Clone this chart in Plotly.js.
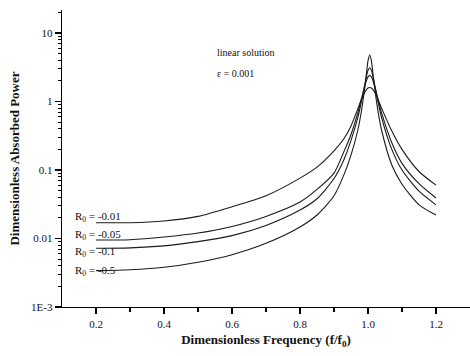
<!DOCTYPE html>
<html>
<head>
<meta charset="utf-8">
<script src="https://cdn.plot.ly/plotly-3.0.1.min.js"></script>
<style>html,body{margin:0;padding:0;background:#fff;}#chart{width:470px;height:356px;}</style>
</head>
<body>
<div id="chart"></div>
<script>
// Dimensionless frequency f/f0
const freq = [0.2, 0.3, 0.4, 0.5, 0.6, 0.7, 0.8, 0.85, 0.9, 0.93, 0.95, 0.97, 0.98, 0.99, 0.995, 1.0, 1.005, 1.01, 1.015, 1.02, 1.03, 1.04, 1.07, 1.1, 1.15, 1.2];

const seriesNames = ["R0 = -0.01", "R0 = -0.05", "R0 = -0.1", "R0 = -0.5"];

const powerR001 = [0.017, 0.017, 0.018, 0.021, 0.029, 0.042, 0.076, 0.11, 0.19, 0.29, 0.44, 0.78, 1.06, 1.35, 1.48, 1.57, 1.6, 1.57, 1.48, 1.35, 1.06, 0.8, 0.37, 0.2, 0.095, 0.06];
const powerR005 = [0.0095, 0.0096, 0.0105, 0.012, 0.015, 0.021, 0.034, 0.052, 0.09, 0.19, 0.33, 0.68, 1.05, 1.64, 1.99, 2.28, 2.4, 2.28, 1.99, 1.64, 1.05, 0.68, 0.25, 0.125, 0.063, 0.039];
const powerR01 = [0.0072, 0.0073, 0.0078, 0.009, 0.011, 0.0155, 0.026, 0.038, 0.075, 0.145, 0.27, 0.58, 0.96, 1.72, 2.28, 2.85, 3.1, 2.85, 2.28, 1.72, 0.96, 0.58, 0.2, 0.1, 0.049, 0.031];
const powerR05 = [0.0034, 0.0035, 0.0038, 0.0045, 0.0058, 0.0085, 0.0147, 0.022, 0.042, 0.087, 0.165, 0.38, 0.69, 1.52, 2.45, 3.9, 4.8, 3.9, 2.45, 1.52, 0.69, 0.38, 0.118, 0.062, 0.031, 0.022];

const allPower = [powerR001, powerR005, powerR01, powerR05];

const xTickVals = [0.2, 0.4, 0.6, 0.8, 1.0, 1.2];
const xTickText = ["0.2", "0.4", "0.6", "0.8", "1.0", "1.2"];
const xMinorVals = [0.3, 0.5, 0.7, 0.9, 1.1];
const yTickVals = [0.001, 0.01, 0.1, 1, 10];
const yTickText = ["1E-3", "0.01", "0.1", "1", "10"];
const yMinorVals = [
  0.002, 0.003, 0.004, 0.005, 0.006, 0.007, 0.008, 0.009,
  0.02, 0.03, 0.04, 0.05, 0.06, 0.07, 0.08, 0.09,
  0.2, 0.3, 0.4, 0.5, 0.6, 0.7, 0.8, 0.9,
  2, 3, 4, 5, 6, 7, 8, 9,
  20
];

// label texts and their placement (log10 y)
const labelTexts = ["R<sub>0</sub> = -0.01", "R<sub>0</sub> = -0.05", "R<sub>0</sub> = -0.1", "R<sub>0</sub> = -0.5"];
const labelY = [-1.686, -1.949, -2.197, -2.474];

const traces = allPower.map((p, i) => ({
  x: freq, y: p, type: 'scatter', mode: 'lines', name: seriesNames[i],
  line: {color: '#1a1a1a', width: 1.1, shape: 'spline', smoothing: 0.7}, hoverinfo: 'skip'
}));

const serif = 'Liberation Serif, Times New Roman, serif';

const annotations = labelTexts.map((t, i) => ({
  text: t, x: 0.132, y: labelY[i], xref: 'x', yref: 'y', xanchor: 'left', yanchor: 'middle',
  showarrow: false, font: {family: serif, size: 11, color: '#111'}
}));
annotations.push({text: 'linear solution', x: 0.55, y: 0.72, xref: 'x', yref: 'y', xanchor: 'left', yanchor: 'middle', showarrow: false, font: {family: serif, size: 10, color: '#111'}});
annotations.push({text: 'ε = 0.001', x: 0.55, y: 0.415, xref: 'x', yref: 'y', xanchor: 'left', yanchor: 'middle', showarrow: false, font: {family: serif, size: 10, color: '#111'}});

const layout = {
  width: 470, height: 356,
  margin: {l: 62, r: 0, t: 10, b: 49},
  paper_bgcolor: '#fff', plot_bgcolor: '#fff',
  showlegend: false,
  font: {family: serif, size: 11, color: '#111'},
  xaxis: {
    range: [0.1, 1.3], showgrid: false, zeroline: false,
    showline: true, linecolor: '#000', linewidth: 1.3, mirror: false,
    ticks: 'outside', ticklen: 6, tickwidth: 1.4, tickcolor: '#000',
    tickmode: 'array', tickvals: xTickVals, ticktext: xTickText,
    tickfont: {family: serif, size: 11, color: '#111'},
    minor: {tickmode: 'array', tickvals: xMinorVals, ticks: 'outside', ticklen: 4, tickwidth: 1.2, tickcolor: '#000', showgrid: false},
    title: {text: '<b>Dimensionless Frequency (f/f<sub>0</sub>)</b>', font: {family: serif, size: 13, color: '#111'}, standoff: 6}
  },
  yaxis: {
    type: 'log', range: [-3, 1.335], showgrid: false, zeroline: false,
    showline: true, linecolor: '#000', linewidth: 1.3,
    ticks: 'outside', ticklen: 6, tickwidth: 1.4, tickcolor: '#000',
    tickmode: 'array', tickvals: yTickVals, ticktext: yTickText,
    tickfont: {family: serif, size: 11, color: '#111'},
    minor: {tickmode: 'array', tickvals: yMinorVals, ticks: 'outside', ticklen: 3, tickwidth: 1.1, tickcolor: '#000', showgrid: false},
    title: {text: '<b>Dimensionless Absorbed Power</b>', font: {family: serif, size: 13, color: '#111'}, standoff: 8}
  },
  annotations: annotations
};

Plotly.newPlot('chart', traces, layout, {staticPlot: true, displayModeBar: false});
</script>
</body>
</html>
